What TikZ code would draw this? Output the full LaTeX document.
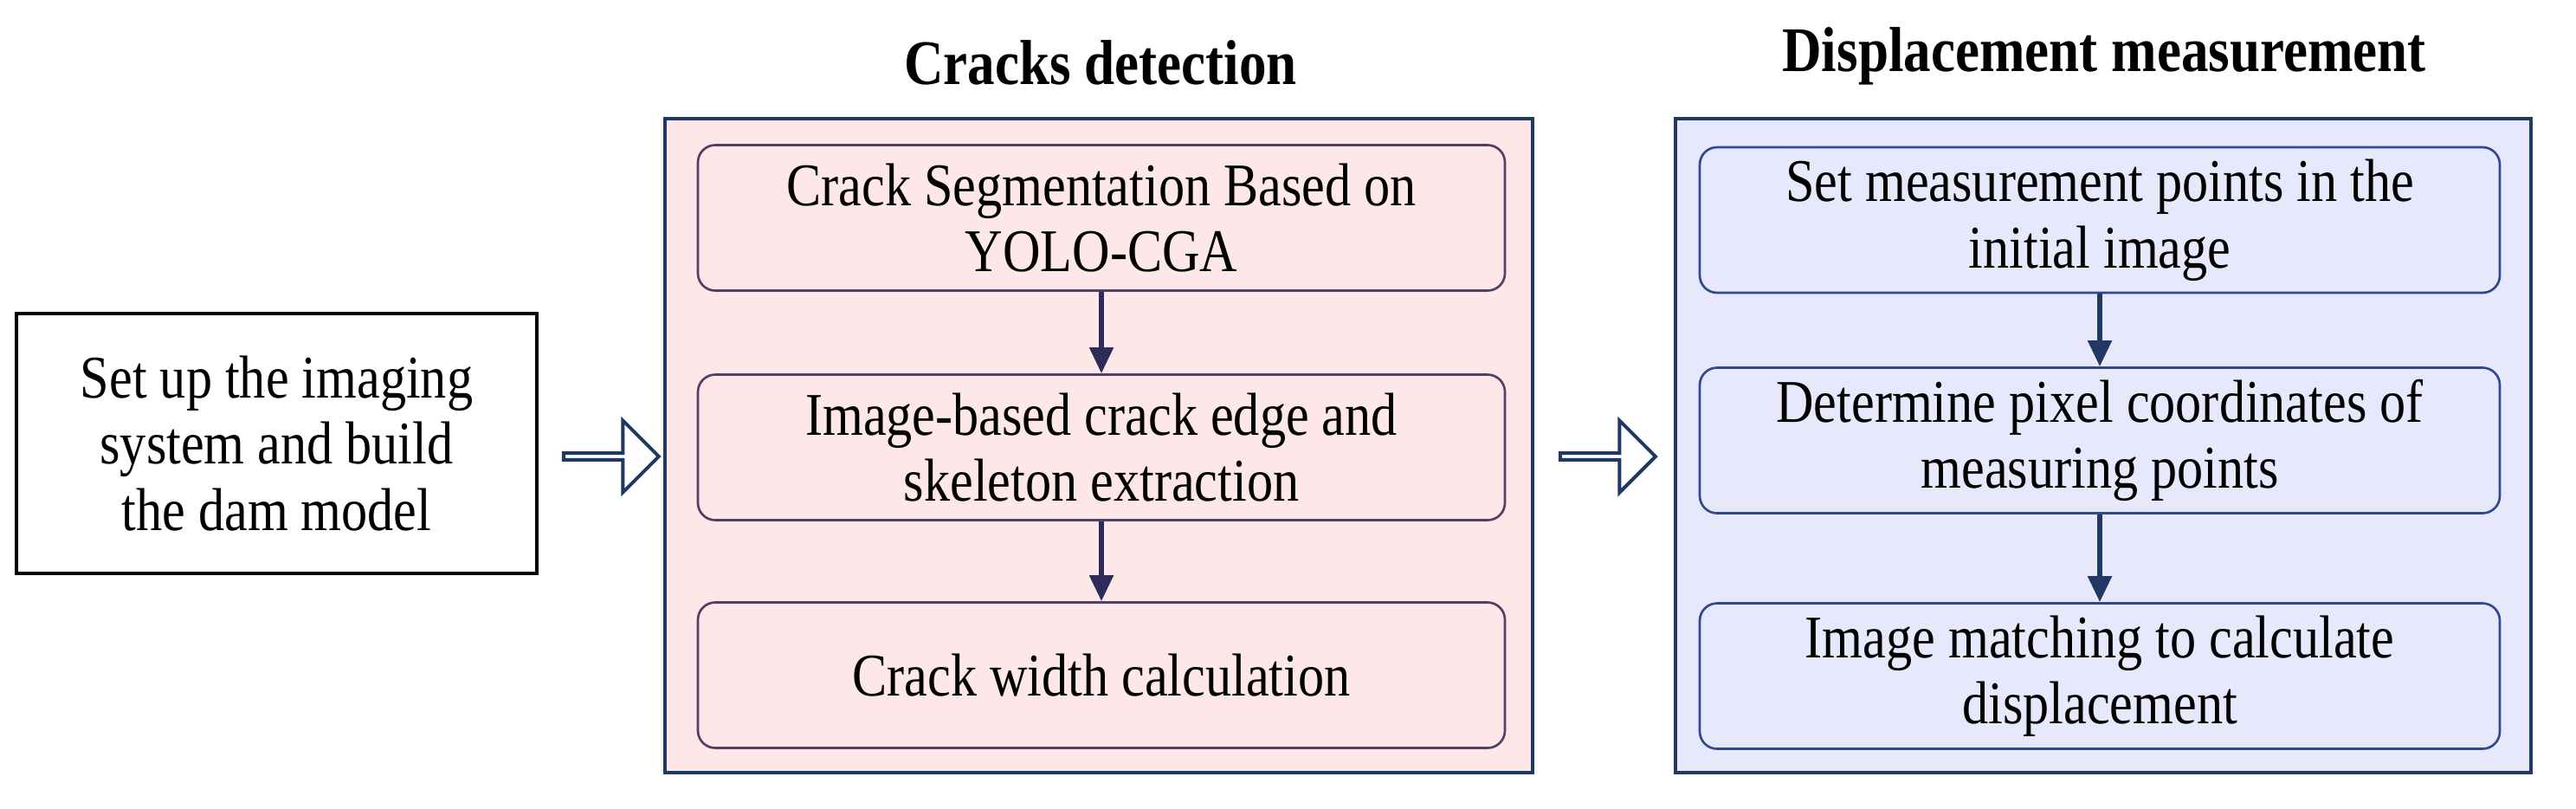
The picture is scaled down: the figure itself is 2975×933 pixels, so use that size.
\documentclass[tikz,border=0pt]{standalone}
\usepackage{fontspec}
\setmainfont{Liberation Serif}[FakeStretch=0.86]
\usetikzlibrary{arrows.meta,shapes.arrows}
\definecolor{navy}{HTML}{1F3864}
\definecolor{pinkf}{HTML}{FDE7E8}
\definecolor{bluef}{HTML}{E7E8FB}
\definecolor{pinkb}{HTML}{4F4260}
\definecolor{blueb}{HTML}{2F4A8C}
\definecolor{arrp}{HTML}{2E2A5A}
\begin{document}
\begin{tikzpicture}[x=0.3pt,y=-0.3pt,
 txt/.style={font=\fontsize{21}{23}\selectfont,align=center},
 outer/.style={draw=navy,line width=1.3pt,minimum width=#1*0.3pt,minimum height=755*0.3pt,inner sep=0pt},
 inbox/.style={txt,rounded corners=6pt,line width=0.8pt,minimum height=168*0.3pt,minimum width=#1*0.3pt},
 ttl/.style={font=\bfseries\fontsize{22}{26}\selectfont},
 sarr/.style={-{Triangle[width=8pt,length=9pt]},line width=1.8pt},
 barr/.style={single arrow,draw=navy,line width=1.2pt,fill=white,minimum width=83*0.3pt,single arrow head extend=6pt,minimum height=110*0.3pt,inner sep=0pt,shape border rotate=0}]
\useasboundingbox (0,0) rectangle (2975,933);
\node[txt,draw=black,line width=1pt,minimum width=601*0.3pt,minimum height=300*0.3pt] (setup) at (319.5,512) {Set up the imaging\\system and build\\the dam model};
\node[outer=1002,fill=pinkf] (cd) at (1269,514.5) {};
\node[ttl] (t1) at (1271,72) {Cracks detection};
\node[inbox=932,draw=pinkb,fill=pinkf] (c1) at (1272,251.5) {Crack Segmentation Based on\\YOLO-CGA};
\node[inbox=932,draw=pinkb,fill=pinkf] (c2) at (1272,516.5) {Image-based crack edge and\\skeleton extraction};
\node[inbox=932,draw=pinkb,fill=pinkf] (c3) at (1272,779.5) {Crack width calculation};
\draw[sarr,draw=arrp,fill=arrp] (c1.south) -- (c2.north);
\draw[sarr,draw=arrp,fill=arrp] (c2.south) -- (c3.north);
\node[outer=988,fill=bluef] (dm) at (2429,514.5) {};
\node[ttl] (t2) at (2430,65) {Displacement measurement};
\node[inbox=924,draw=blueb,fill=bluef] (d1) at (2425,254) {Set measurement points in the\\initial image};
\node[inbox=924,draw=blueb,fill=bluef] (d2) at (2425,508.5) {Determine pixel coordinates of\\measuring points};
\node[inbox=924,draw=blueb,fill=bluef] (d3) at (2425,780.5) {Image matching to calculate\\displacement};
\draw[sarr,draw=navy,fill=navy] (d1.south) -- (d2.north);
\draw[sarr,draw=navy,fill=navy] (d2.south) -- (d3.north);
\node[barr] (a1) at (704,527) {};
\node[barr] (a2) at (1855,527) {};
\end{tikzpicture}
\end{document}
